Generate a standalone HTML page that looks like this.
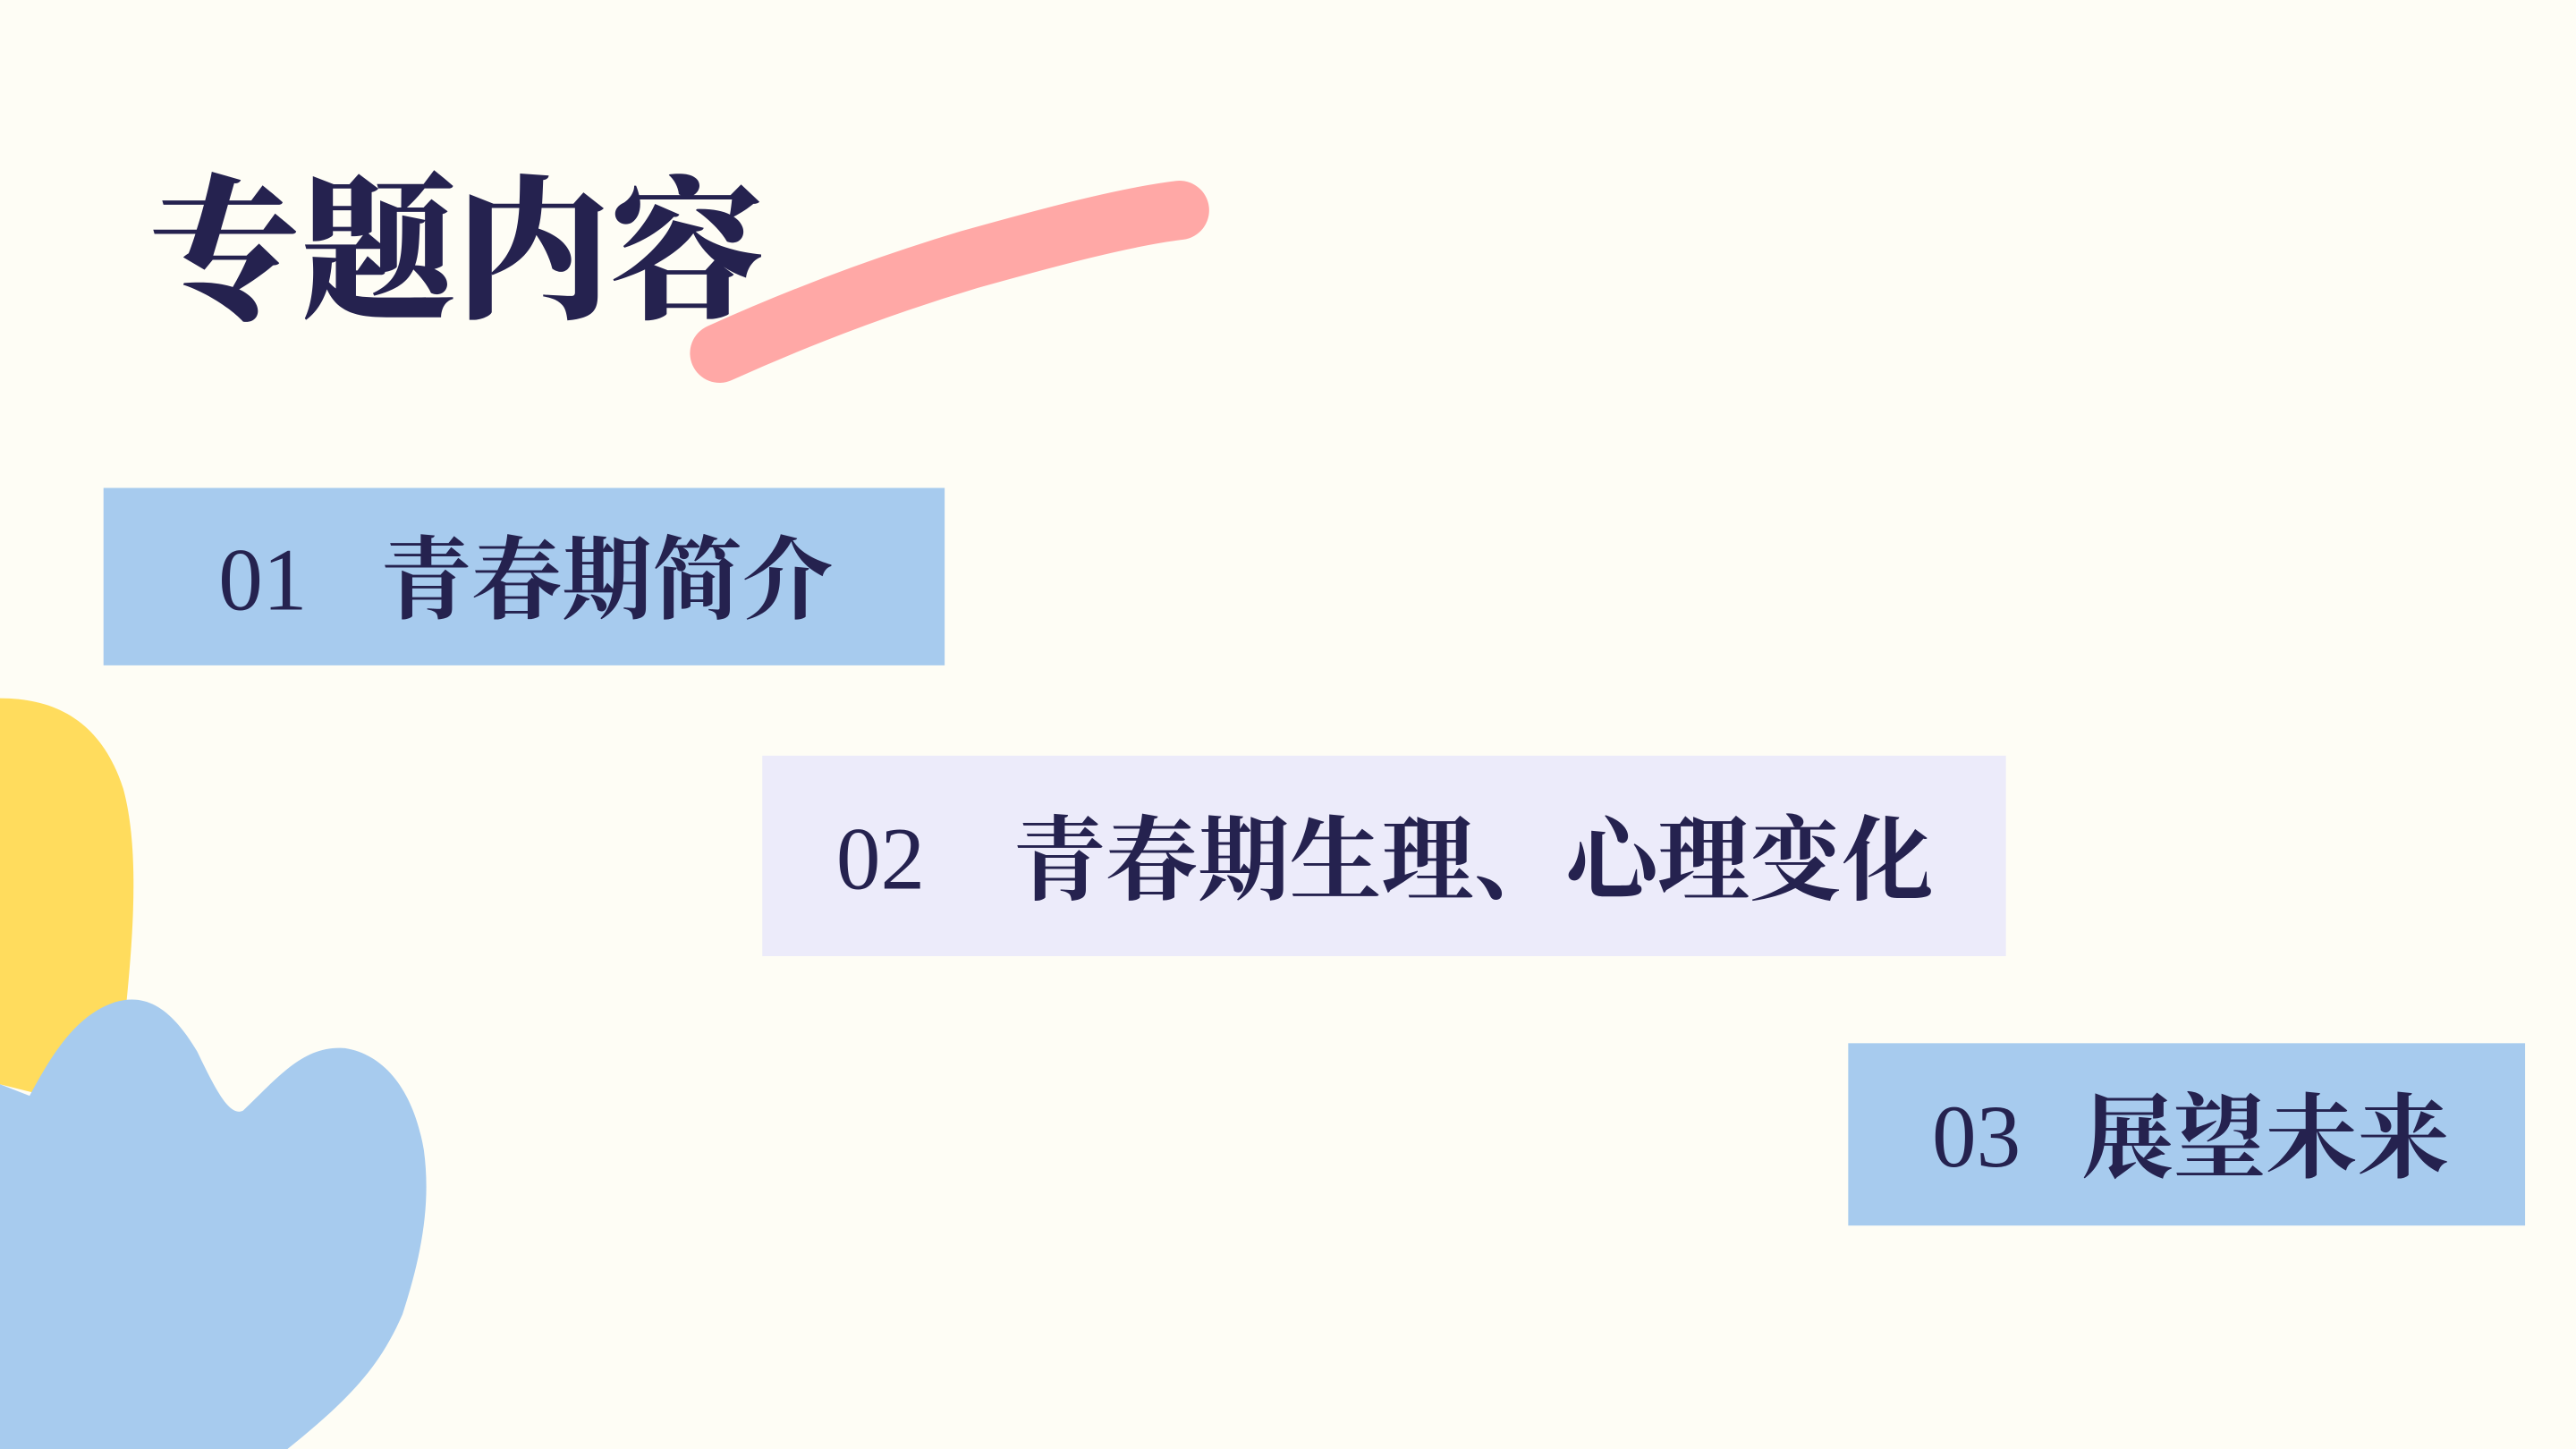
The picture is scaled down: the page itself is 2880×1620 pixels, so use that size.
<!DOCTYPE html>
<html><head><meta charset="utf-8"><style>
html,body{margin:0;padding:0;background:#FEFDF5;}
svg{display:block;}
text{font-family:"Liberation Serif","Noto Serif CJK SC",serif;fill:#25224F;font-weight:700;}
text.n{font-weight:400;}
</style></head><body>
<svg width="2880" height="1620" viewBox="0 0 1568 882" xmlns="http://www.w3.org/2000/svg">
<rect width="1568" height="882" fill="#FEFDF5"/>
<path d="M0,425 C35,425 62,440 75,480 C86,520 80,580 76,620 L40,670 L0,660 Z" fill="#FFDC5D"/>
<path d="M0,660 L18,667 C30,645 45,618 70,610 C90,604 105,615 120,640 C132,665 140,680 148,676 C170,655 185,636 210,638 C235,642 252,665 258,700 C262,730 258,760 245,800 C232,830 215,850 175,882 L0,882 Z" fill="#A7CBEE"/>
<path d="M438,215 C480,196 530,176 590,158 C640,144 685,132 718,128" stroke="#FFA8A6" stroke-width="36" fill="none" stroke-linecap="round"/>
<text x="90" y="186" font-size="94" style="font-weight:900" textLength="375" lengthAdjust="spacing">专题内容</text>
<rect x="63" y="297" width="512" height="108" fill="#A7CBEE"/>
<text class="n" x="133" y="371" font-size="54">01</text>
<text x="232" y="372" font-size="55">青春期简介</text>
<rect x="464" y="460" width="757" height="122" fill="#ECEBFA"/>
<text class="n" x="509" y="541" font-size="54">02</text>
<text x="617" y="543" font-size="56">青春期生理、心理变化</text>
<rect x="1125" y="635" width="412" height="111" fill="#A7CBEE"/>
<text class="n" x="1176" y="710" font-size="54">03</text>
<text x="1267" y="712" font-size="56">展望未来</text>
</svg>
</body></html>
